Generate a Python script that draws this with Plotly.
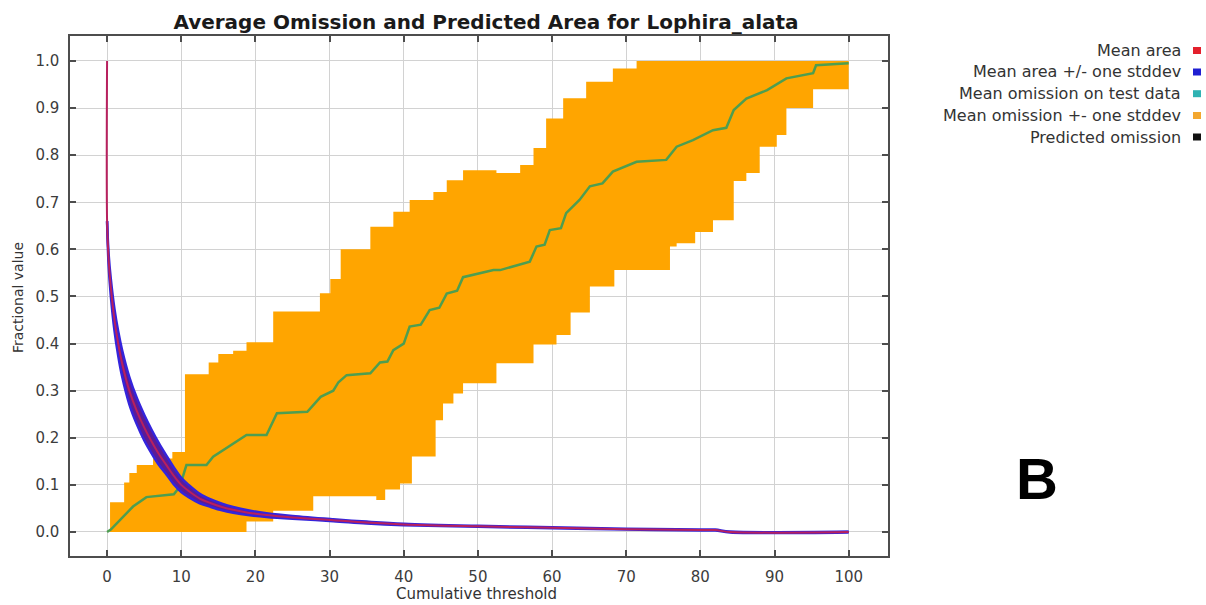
import plotly.graph_objects as go

# ---------------- data ----------------
# Mean predicted area (fraction) vs cumulative threshold, and its std-dev
area_x = [0, 0, 0.2, 0.5, 1, 1.5, 2, 3, 4, 5, 6, 7, 8, 9, 10, 11, 12.5, 14, 15.5,
          17, 19, 21.5, 25, 30.5, 35, 40, 50, 60, 70, 80, 82, 84, 100]
area_mean = [1.0, 0.66, 0.58, 0.52, 0.45, 0.40, 0.36, 0.30, 0.257, 0.222, 0.192, 0.165,
             0.142, 0.119, 0.100, 0.087, 0.071, 0.061, 0.053, 0.047, 0.041, 0.036,
             0.031, 0.025, 0.020, 0.016, 0.012, 0.009, 0.006, 0.004, 0.004, 0.0, 0.0]
area_sd = [0.0, 0.0, 0.012, 0.018, 0.023, 0.026, 0.028, 0.029, 0.028, 0.027, 0.025,
           0.023, 0.020, 0.018, 0.015, 0.013, 0.010, 0.008, 0.007, 0.006, 0.005,
           0.004, 0.003, 0.002, 0.002, 0.0015, 0.001, 0.001, 0.001, 0.001, 0.001,
           0.001, 0.001]

# Mean omission on test data
omis_x = [0, 0.5, 3.5, 5.3, 9.0, 9.8, 10.7, 13.4, 14.3, 17.0, 18.8, 21.5, 22.9, 27.0,
          28.8, 30.5, 31.2, 32.3, 35.5, 36.8, 37.8, 38.6, 40.0, 40.8, 42.3, 43.5,
          44.8, 45.8, 47.2, 48.0, 52.1, 53.0, 56.0, 57.0, 57.9, 59.0, 59.7, 61.2,
          61.9, 63.7, 65.1, 66.8, 68.2, 71.4, 75.4, 76.8, 79.0, 81.7, 83.5, 84.5,
          86.2, 89.0, 91.6, 95.2, 95.6, 100]
omis_mean = [0.0, 0.005, 0.054, 0.074, 0.080, 0.096, 0.142, 0.142, 0.160, 0.188,
             0.206, 0.206, 0.252, 0.255, 0.287, 0.300, 0.318, 0.333, 0.337, 0.360,
             0.362, 0.386, 0.400, 0.436, 0.440, 0.471, 0.476, 0.506, 0.512, 0.541,
             0.556, 0.556, 0.570, 0.574, 0.606, 0.610, 0.641, 0.645, 0.677, 0.705,
             0.734, 0.740, 0.765, 0.786, 0.790, 0.818, 0.832, 0.853, 0.858, 0.896,
             0.920, 0.938, 0.963, 0.974, 0.991, 0.995]

# Mean omission +- one stddev (step edges)
omis_hi_x = [0.4, 2.3, 3.0, 4.0, 6.2, 8.8, 10.5, 13.7, 15.0, 17.0, 18.8, 22.4, 28.7,
             30.1, 31.5, 35.5, 38.6, 40.8, 44.0, 45.8, 48.0, 52.5, 55.7, 57.5, 59.2,
             61.5, 64.6, 68.2, 71.4, 100]
omis_hi = [0.063, 0.105, 0.125, 0.142, 0.156, 0.170, 0.335, 0.360, 0.378, 0.385,
           0.403, 0.468, 0.507, 0.537, 0.600, 0.648, 0.680, 0.705, 0.722, 0.747,
           0.768, 0.762, 0.779, 0.815, 0.878, 0.921, 0.956, 0.984, 1.0, 1.0]
omis_lo_x = [0.4, 18.8, 22.4, 27.8, 36.3, 37.5, 39.5, 41.1, 44.3, 45.3, 46.7, 48.0,
             52.5, 57.5, 60.6, 62.5, 65.1, 68.4, 75.9, 76.8, 79.3, 81.7, 84.5, 86.2,
             88.0, 90.3, 91.6, 95.2, 100]
omis_lo = [0.0, 0.022, 0.045, 0.076, 0.068, 0.090, 0.103, 0.160, 0.237, 0.273, 0.294,
           0.316, 0.358, 0.398, 0.418, 0.466, 0.521, 0.556, 0.606, 0.613, 0.637,
           0.662, 0.745, 0.762, 0.818, 0.843, 0.900, 0.940, 0.940]

x_ticks = [0, 10, 20, 30, 40, 50, 60, 70, 80, 90, 100]
y_ticks = [0.0, 0.1, 0.2, 0.3, 0.4, 0.5, 0.6, 0.7, 0.8, 0.9, 1.0]

legend_labels = ["Mean area", "Mean area +/- one stddev", "Mean omission on test data",
                 "Mean omission +- one stddev", "Predicted omission"]
legend_colors = ["#e3202c", "#1f1fd2", "#2fb3b3", "#f3a72f", "#111111"]

title_text = "Average Omission and Predicted Area for Lophira_alata"

# ---------------- figure ----------------
W, H = 1206, 605
L, R, T, B = 70, 888, 36, 556  # plot area in pixels

ORANGE = "#ffa500"
GREEN = "#4e9e50"
BLUE = "#3424dc"
PURPLE = "#5a1c96"
RED = "#b8205e"

fig = go.Figure()

# orange band
fig.add_trace(go.Scatter(x=omis_lo_x, y=omis_lo, mode="lines", line=dict(shape="hv", width=0, color=ORANGE),
                         showlegend=False, hoverinfo="skip"))
fig.add_trace(go.Scatter(x=omis_hi_x, y=omis_hi, mode="lines", line=dict(shape="hv", width=0, color=ORANGE),
                         fill="tonexty", fillcolor=ORANGE, showlegend=False, hoverinfo="skip"))

# green mean omission line
fig.add_trace(go.Scatter(x=omis_x, y=omis_mean, mode="lines", line=dict(color=GREEN, width=2.5),
                         showlegend=False))

# blue std band for area
ax = area_x[1:]
lo = [m - s for m, s in zip(area_mean[1:], area_sd[1:])]
hi = [m + s for m, s in zip(area_mean[1:], area_sd[1:])]
fig.add_trace(go.Scatter(x=ax, y=lo, mode="lines", line=dict(color=BLUE, width=2.5, shape="spline"),
                         showlegend=False, hoverinfo="skip"))
fig.add_trace(go.Scatter(x=ax, y=hi, mode="lines", line=dict(color=BLUE, width=2.5, shape="spline"),
                         fill="tonexty", fillcolor=PURPLE, showlegend=False, hoverinfo="skip"))

# red mean area
fig.add_trace(go.Scatter(x=area_x, y=area_mean, mode="lines", line=dict(color=RED, width=2, shape="spline"),
                         showlegend=False))

def px2paper_x(px):
    return (px - L) / (R - L)

def px2paper_y(py):
    return (B - py) / (B - T)

annotations = []
shapes = []
row_y = [50.5, 72, 93.7, 115.5, 137]
for lab, col, py in zip(legend_labels, legend_colors, row_y):
    annotations.append(dict(x=px2paper_x(1183), y=px2paper_y(py), xref="paper", yref="paper",
                            text=lab, showarrow=False, xanchor="right", yanchor="middle",
                            font=dict(family="DejaVu Sans", size=16, color="#333333")))
    shapes.append(dict(type="rect", xref="paper", yref="paper",
                       x0=px2paper_x(1193), x1=px2paper_x(1201),
                       y0=px2paper_y(py + 3.5), y1=px2paper_y(py - 3.5),
                       fillcolor=col, line=dict(width=0)))

# axis titles
annotations.append(dict(x=px2paper_x(476), y=px2paper_y(594), xref="paper", yref="paper",
                        text="Cumulative threshold", showarrow=False, xanchor="center", yanchor="middle",
                        font=dict(family="DejaVu Sans", size=15, color="#333333")))
annotations.append(dict(x=px2paper_x(18), y=px2paper_y(298), xref="paper", yref="paper",
                        text="Fractional value", showarrow=False, xanchor="center", yanchor="middle",
                        textangle=-90, font=dict(family="DejaVu Sans", size=14, color="#333333")))
# panel letter
annotations.append(dict(x=px2paper_x(1037), y=px2paper_y(478), xref="paper", yref="paper",
                        text="<b>B</b>", showarrow=False, xanchor="center", yanchor="middle",
                        font=dict(family="Liberation Sans", size=58, color="#000000")))

axis_common = dict(showgrid=True, gridcolor="#d2d2d2", gridwidth=1, zeroline=False,
                   showline=True, linecolor="#4d4d4d", linewidth=1.5, mirror="ticks",
                   ticks="inside", ticklen=6, tickwidth=1.5, tickcolor="#4d4d4d",
                   tickfont=dict(family="DejaVu Sans", size=15, color="#3c3c3c"))

fig.update_layout(
    width=W, height=H,
    margin=dict(l=L, r=W - R, t=T, b=H - B, pad=0),
    paper_bgcolor="white", plot_bgcolor="white",
    title=dict(text="<b>" + title_text + "</b>", x=486 / W, xanchor="center",
               y=1 - 22 / H, yanchor="middle", yref="container",
               font=dict(family="DejaVu Sans", size=20, color="#1a1a1a")),
    xaxis=dict(range=[-5, 105.3], tickvals=x_ticks, ticktext=[str(v) for v in x_ticks],
               ticklabelstandoff=6, **axis_common),
    yaxis=dict(range=[-0.051, 1.053], tickvals=y_ticks, ticktext=[f"{v:.1f}" for v in y_ticks],
               ticklabelstandoff=6, **axis_common),
    annotations=annotations, shapes=shapes, showlegend=False,
)

fig.write_html("out.html")
